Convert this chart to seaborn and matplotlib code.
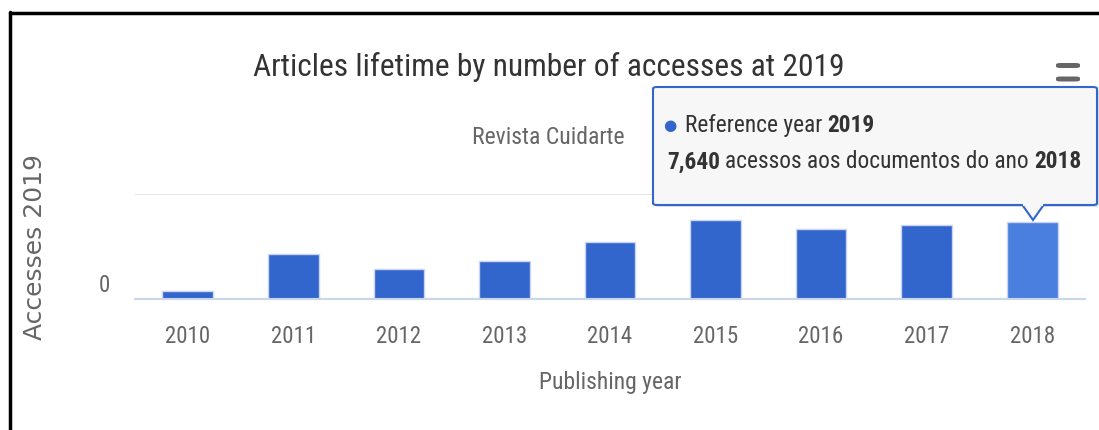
import numpy as np
import pandas as pd
import matplotlib
matplotlib.use("Agg")
import matplotlib.pyplot as plt
import seaborn as sns
from matplotlib import font_manager
from matplotlib.patches import FancyBboxPatch, Polygon, Rectangle

years = ["2010", "2011", "2012", "2013", "2014", "2015", "2016", "2017", "2018"]
accesses = [830, 4480, 2990, 3790, 5680, 7870, 6970, 7370, 7640]
hover_year = "2018"
ref_year = "2019"

W, H = 1099, 430

sns.set_theme(style="white")
names = {f.name for f in font_manager.fontManager.ttflist}
narrow = "DejaVu Sans"
for cand in ["Liberation Sans Narrow", "Roboto Condensed", "Open Sans Condensed", "DejaVu Sans Condensed"]:
    if cand in names:
        narrow = cand
        break
plt.rcParams['font.family'] = [narrow, 'DejaVu Sans']

df = pd.DataFrame({"year": years, "accesses": accesses})
palette = {y: ("#4a7fe0" if y == hover_year else "#3366cc") for y in years}

fig = plt.figure(figsize=(W / 100, H / 100), dpi=100)
fig.patch.set_facecolor("white")

# plot area in pixels: x 135..1085, y 194..299
ax = fig.add_axes([135 / W, 1 - 299 / H, 950 / W, 105 / H])
sns.barplot(data=df, x="year", y="accesses", hue="year", palette=palette, saturation=1,
            legend=False, width=0.48, edgecolor="#c9d5f2", linewidth=1, ax=ax)

ax.set_ylim(0, 10460)
ax.set_xlim(-0.5, len(years) - 0.5)
ax.set_yticks([0, 10460])
ax.set_yticklabels([])
ax.tick_params(axis="y", length=0)
ax.grid(axis="y", color="#e6e6e6", linewidth=1.5)
ax.set_axisbelow(True)
for s in ["top", "right", "left"]:
    ax.spines[s].set_visible(False)
ax.spines["bottom"].set_color("#ccd6eb")
ax.spines["bottom"].set_linewidth(1.5)
ax.tick_params(axis="x", length=7.5, width=1, color="#ccd6eb", pad=11,
               labelsize=16.5, labelcolor="#666666")

# the zero label sits a bit above the baseline in the original
ax.text(-0.026, 1300, "0", transform=ax.get_yaxis_transform(), ha="right", va="center",
        fontsize=16.5, color="#666666")

ax.set_xlabel("Publishing year", fontsize=17, color="#666666", va="center")
ax.xaxis.set_label_coords(0.5, (299 - 383) / 105)
ax.set_ylabel("Accesses 2019", fontsize=18, color="#666666", family="DejaVu Sans", va="center")
ax.yaxis.set_label_coords((35 - 135) / 950, (299 - 247) / 105)

fig.text(549 / W, 1 - 67 / H, "Articles lifetime by number of accesses at 2019",
         ha="center", va="center", fontsize=22.7, color="#333333")
fig.text(548 / W, 1 - 137 / H, "Revista Cuidarte", ha="center", va="center",
         fontsize=17, color="#666666")

# frame lines of the screenshot
fig.add_artist(plt.Line2D([9.5 / W, 9.5 / W], [0, 1 - 12 / H], color="black", lw=2.5))
fig.add_artist(plt.Line2D([9.5 / W, 1], [1 - 13 / H, 1 - 13 / H], color="black", lw=2.5))

# menu icon
for yy, c in [(65.5, "#666666"), (79, "#666666"), (92, "#d9d9d9")]:
    fig.add_artist(FancyBboxPatch((1056 / W, 1 - (yy + 2.5) / H), 24 / W, 5 / H,
                                  boxstyle="round,pad=0,rounding_size=0.004",
                                  transform=fig.transFigure, facecolor=c, edgecolor="none"))

# tooltip
def fx(x):
    return x / W

def fy(y):
    return 1 - y / H

shadow = FancyBboxPatch((fx(655), fy(207)), (1097 - 653) / W, (207 - 89) / H,
                        boxstyle="round,pad=0,rounding_size=0.004", transform=fig.transFigure,
                        facecolor="#000000", alpha=0.12, edgecolor="none")
fig.add_artist(shadow)
box = FancyBboxPatch((fx(653), fy(205)), (1097 - 653) / W, (205 - 87) / H,
                     boxstyle="round,pad=0,rounding_size=0.004", transform=fig.transFigure,
                     facecolor="#f7f7f7", edgecolor="#3366cc", lw=1.5)
fig.add_artist(box)
ptr = Polygon([[fx(1022), fy(204.5)], [fx(1033), fy(220)], [fx(1044), fy(204.5)]],
              closed=False, transform=fig.transFigure, facecolor="#f7f7f7",
              edgecolor="#3366cc", lw=1.5)
fig.add_artist(ptr)
fig.add_artist(Rectangle((fx(1023), fy(206)), 20 / W, 3 / H, transform=fig.transFigure,
                         facecolor="#f7f7f7", edgecolor="none"))

renderer = fig.canvas.get_renderer()
tip_size = 16.8

def width_of(s, weight):
    t = fig.text(0, 0, s, fontsize=tip_size, weight=weight)
    w = t.get_window_extent(renderer).width
    t.remove()
    return w

space = width_of("a a", "normal") - width_of("aa", "normal")

def runs(x, y, parts):
    for s, w in parts:
        t = fig.text(fx(x), fy(y), s, fontsize=tip_size, weight=w, color="#333333",
                     ha="left", va="center")
        x += t.get_window_extent(renderer).width + space

fig.text(fx(670), fy(125.5), "\u25cf", fontsize=11, color="#3366cc", ha="center", va="center",
         family="DejaVu Sans")
runs(685, 125, [("Reference year", "normal"), (ref_year, "bold")])
runs(667, 162, [(f"{accesses[years.index(hover_year)]:,}", "bold"),
                ("acessos aos documentos do ano", "normal"), (hover_year, "bold")])

fig.savefig("out.png", dpi=100, facecolor="white")
